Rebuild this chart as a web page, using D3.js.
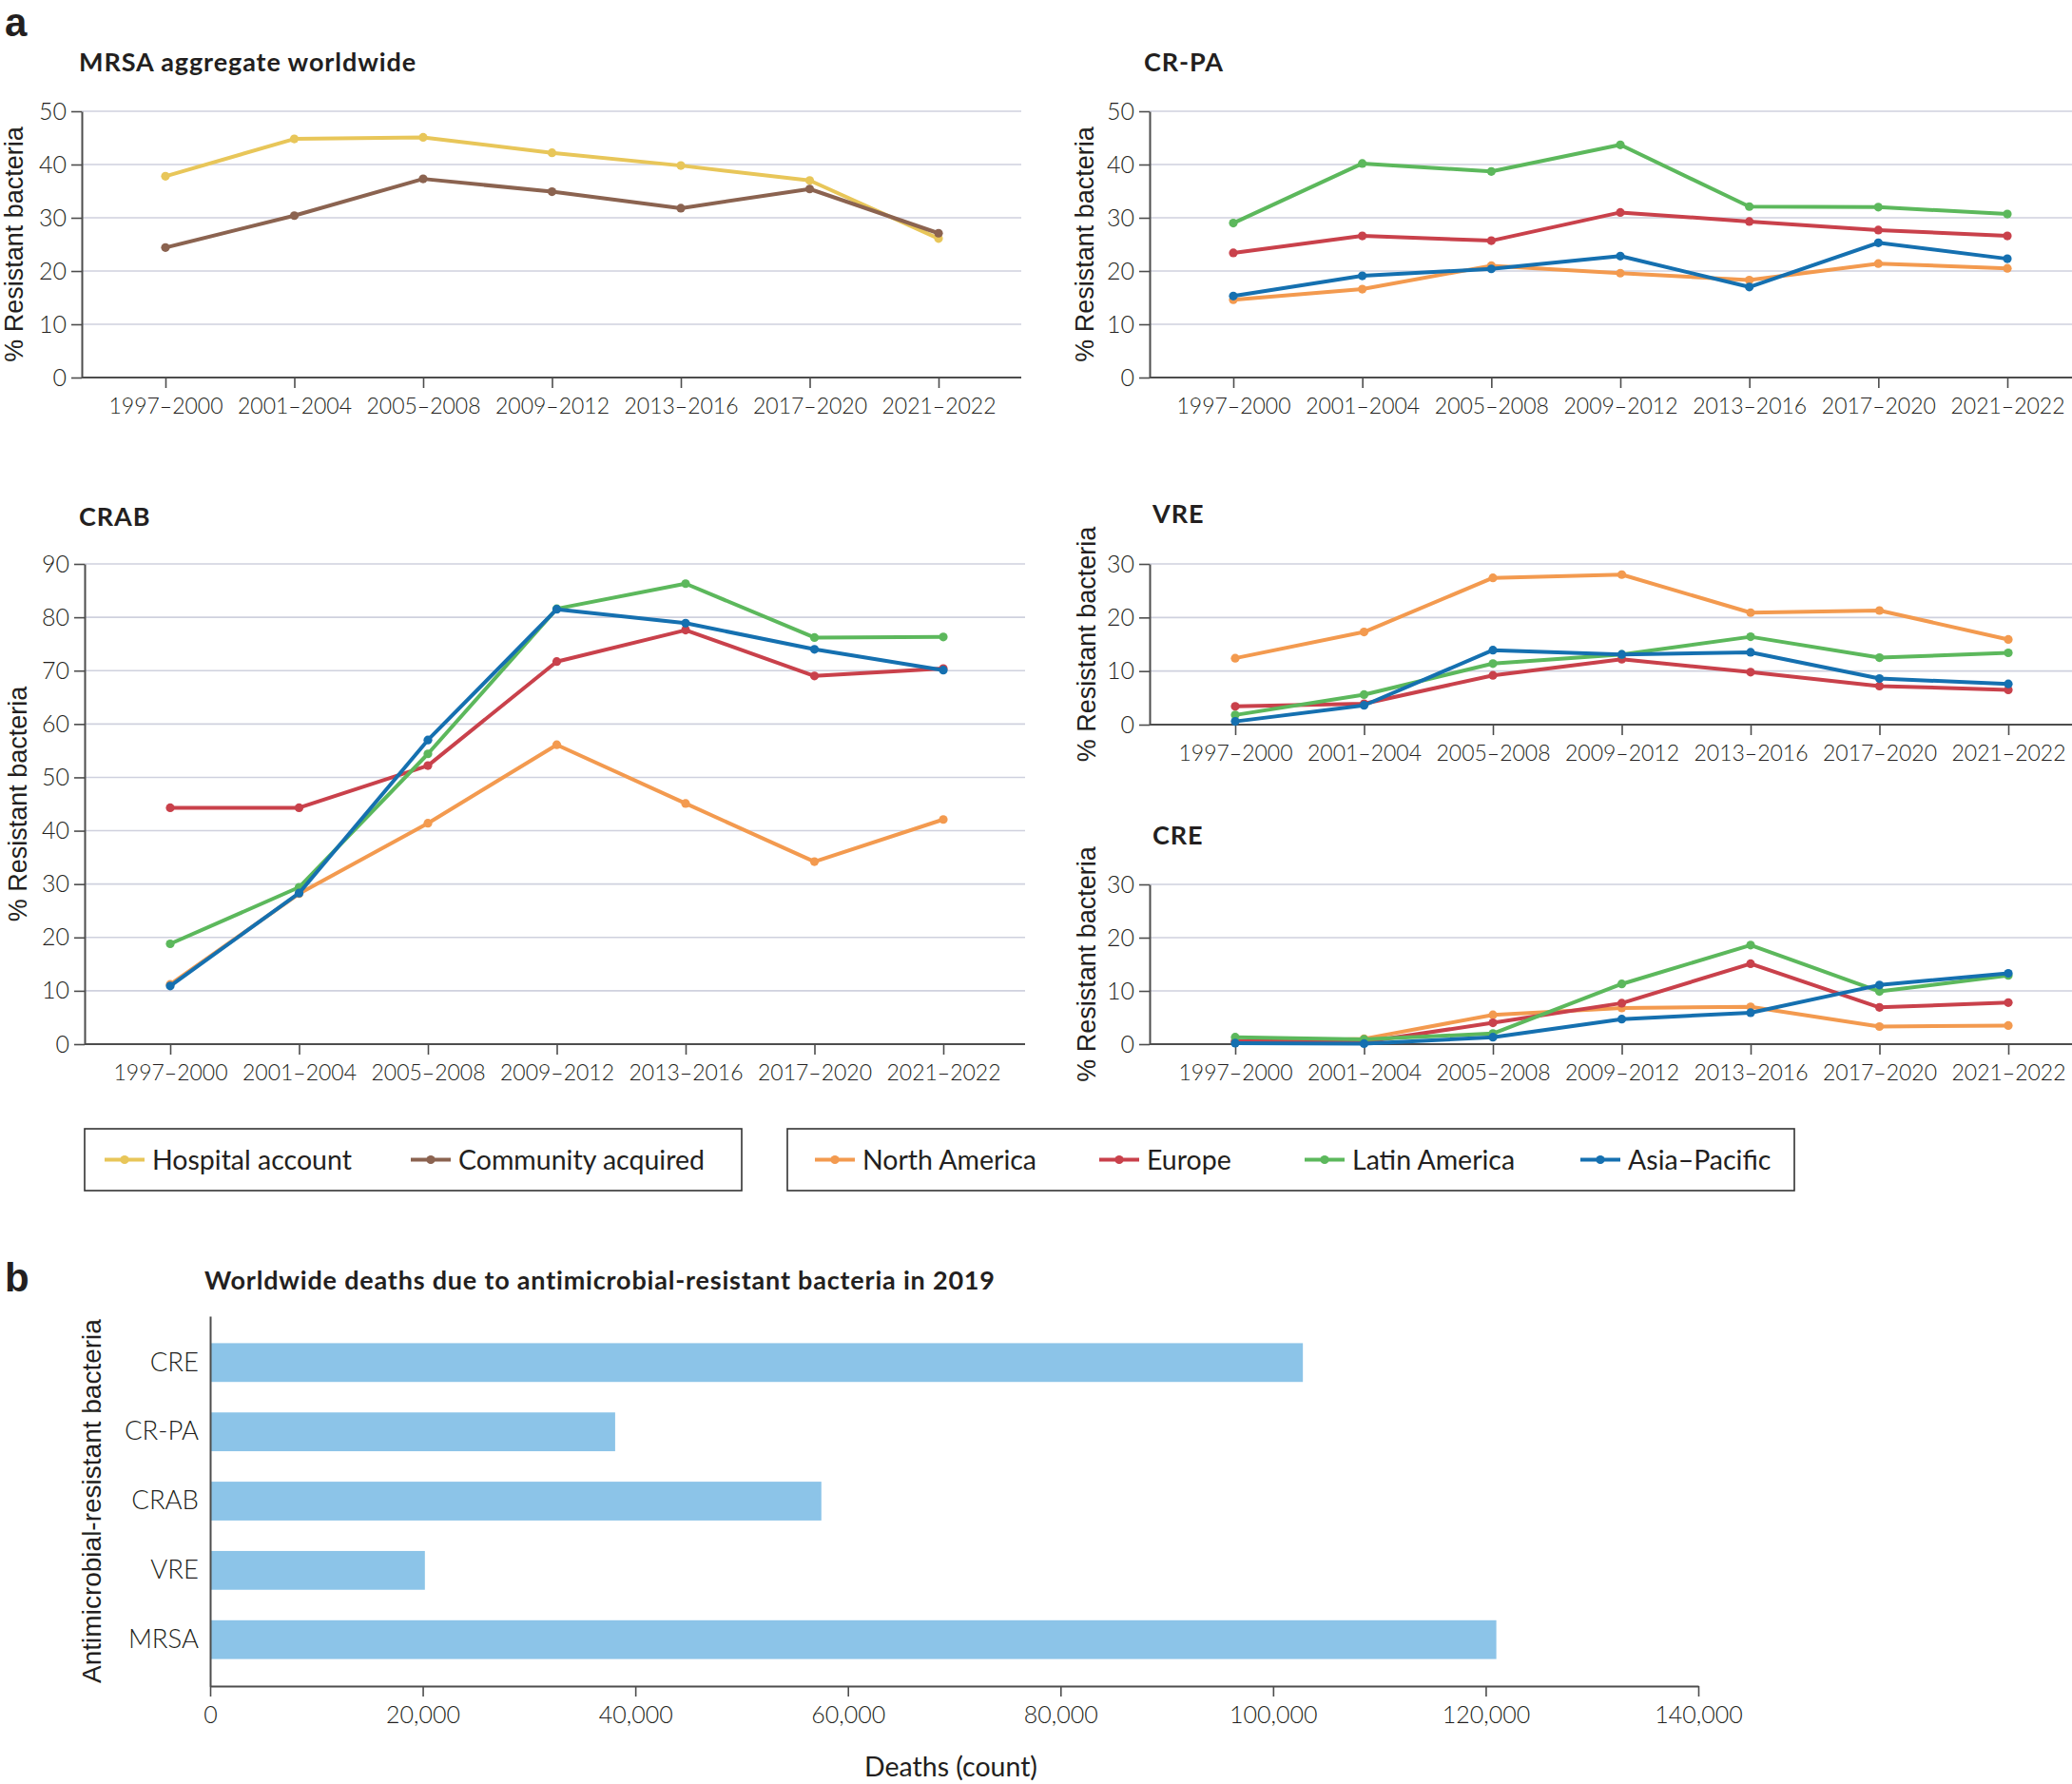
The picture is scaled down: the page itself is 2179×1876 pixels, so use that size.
<!DOCTYPE html>
<html>
<head>
<meta charset="utf-8">
<script src="https://cdn.jsdelivr.net/npm/d3@7"></script>
<style>
  html, body { margin: 0; padding: 0; background: #fff; }
  svg { display: block; }
  .tick text { font-family: Lato, "Liberation Sans", sans-serif; font-weight: 300; fill: #231f20; }
</style>
</head>
<body>
<svg id="chart" width="2179" height="1876"></svg>
<script>
// ---------------- DATA ----------------
const periods = ["1997–2000", "2001–2004", "2005–2008", "2009–2012", "2013–2016", "2017–2020", "2021–2022"];

const mrsaHospital  = [37.8, 44.8, 45.1, 42.2, 39.8, 37.0, 26.1];
const mrsaCommunity = [24.4, 30.4, 37.3, 34.9, 31.8, 35.4, 27.1];

const crpaNorthAmerica = [14.6, 16.6, 21.0, 19.6, 18.3, 21.4, 20.5];
const crpaEurope       = [23.4, 26.6, 25.7, 31.0, 29.3, 27.7, 26.6];
const crpaLatinAmerica = [29.0, 40.2, 38.7, 43.7, 32.1, 32.0, 30.7];
const crpaAsiaPacific  = [15.3, 19.1, 20.4, 22.8, 17.0, 25.3, 22.3];

const crabNorthAmerica = [11.2, 28.2, 41.4, 56.1, 45.1, 34.2, 42.1];
const crabEurope       = [44.3, 44.3, 52.2, 71.7, 77.6, 69.0, 70.4];
const crabLatinAmerica = [18.8, 29.4, 54.4, 81.6, 86.3, 76.2, 76.3];
const crabAsiaPacific  = [10.9, 28.3, 57.0, 81.5, 78.9, 74.0, 70.1];

const vreNorthAmerica = [12.4, 17.3, 27.4, 28.0, 20.9, 21.3, 15.9];
const vreEurope       = [3.4, 3.9, 9.2, 12.2, 9.8, 7.2, 6.5];
const vreLatinAmerica = [1.8, 5.6, 11.4, 13.1, 16.4, 12.5, 13.4];
const vreAsiaPacific  = [0.6, 3.6, 13.9, 13.1, 13.5, 8.6, 7.6];

const creNorthAmerica = [0.4, 1.0, 5.5, 6.8, 7.0, 3.3, 3.5];
const creEurope       = [0.6, 0.4, 4.0, 7.7, 15.1, 6.9, 7.8];
const creLatinAmerica = [1.3, 0.9, 2.0, 11.3, 18.6, 9.9, 12.9];
const creAsiaPacific  = [0.2, 0.1, 1.3, 4.7, 5.9, 11.1, 13.3];

const ticks50 = [0, 10, 20, 30, 40, 50];
const ticks90 = [0, 10, 20, 30, 40, 50, 60, 70, 80, 90];
const ticks30 = [0, 10, 20, 30];

const mrsaLegend   = ["Hospital account", "Community acquired"];
const regionLegend = ["North America", "Europe", "Latin America", "Asia–Pacific"];

const barCategories = ["CRE", "CR-PA", "CRAB", "VRE", "MRSA"];
const barDeaths     = [102800, 38100, 57500, 20200, 121000];
const barTicks      = [0, 20000, 40000, 60000, 80000, 100000, 120000, 140000];

// ---------------- STYLE ----------------
const C = {
  hospital: "#E8C659", community: "#8B6350",
  na: "#F39A4F", eu: "#C9414B", la: "#5CB85C", ap: "#1570B0",
  axis: "#4d4d4d", grid: "#cfd1de", text: "#231f20", bar: "#8CC4E8"
};
const regionColors = [C.na, C.eu, C.la, C.ap];
const mrsaColors = [C.hospital, C.community];

const svg = d3.select("#chart");
const TICK_FONT = 23;
const TITLE_FONT = "Lato, 'Liberation Sans', sans-serif";

function panel(opt) {
  const g = svg.append("g");
  const x = d3.scalePoint().domain(periods).range([opt.cx0, opt.cx1]);
  const y = d3.scaleLinear().domain([0, opt.yMax]).range([opt.yBot, opt.yTop]);

  // gridlines
  g.append("g").selectAll("line").data(opt.ticks.filter(t => t > 0)).join("line")
    .attr("x1", opt.x0).attr("x2", opt.x1)
    .attr("y1", d => y(d)).attr("y2", d => y(d))
    .attr("stroke", C.grid).attr("stroke-width", 1.6);

  // y axis
  const ya = g.append("g").attr("transform", `translate(${opt.x0},0)`)
    .call(d3.axisLeft(y).tickValues(opt.ticks).tickSize(11).tickSizeOuter(0).tickPadding(5));
  ya.select(".domain").attr("stroke", C.axis).attr("stroke-width", 2);
  ya.selectAll(".tick line").attr("stroke", C.axis).attr("stroke-width", 1.6);
  ya.selectAll(".tick text").attr("font-size", 25);

  // x axis
  const xa = g.append("g").attr("transform", `translate(0,${opt.yBot})`)
    .call(d3.axisBottom(x).tickSize(11).tickSizeOuter(0).tickPadding(11));
  xa.select(".domain").remove();
  xa.selectAll(".tick line").attr("stroke", C.axis).attr("stroke-width", 1.6);
  xa.selectAll(".tick text").attr("font-size", TICK_FONT);
  g.append("line").attr("x1", opt.x0).attr("x2", opt.x1)
    .attr("y1", opt.yBot).attr("y2", opt.yBot)
    .attr("stroke", C.axis).attr("stroke-width", 2);

  // series
  const line = d3.line().x((d, i) => x(periods[i])).y(d => y(d));
  opt.series.forEach((s, k) => {
    const sg = g.append("g");
    sg.append("path").datum(s).attr("d", line)
      .attr("fill", "none").attr("stroke", opt.colors[k])
      .attr("stroke-width", 4).attr("stroke-linejoin", "round");
    sg.selectAll("circle").data(s).join("circle")
      .attr("cx", (d, i) => x(periods[i])).attr("cy", d => y(d))
      .attr("r", 4.6).attr("fill", opt.colors[k]);
  });

  // title
  svg.append("text").attr("x", opt.tx).attr("y", opt.ty)
    .attr("font-family", TITLE_FONT).attr("letter-spacing", 0.9)
    .attr("font-weight", 700).attr("font-size", 27).attr("fill", C.text)
    .text(opt.title);

  // y label
  svg.append("text")
    .attr("transform", `translate(${opt.lx},${(opt.yTop + opt.yBot) / 2}) rotate(-90)`)
    .attr("text-anchor", "middle")
    .attr("font-family", "'Liberation Sans', Arial, sans-serif")
    .attr("font-size", 27).attr("fill", C.text)
    .text("% Resistant bacteria");
}

panel({ title: "MRSA aggregate worldwide", tx: 83, ty: 75, lx: 24,
  x0: 86, x1: 1074, cx0: 174, cx1: 987, yTop: 117, yBot: 397, yMax: 50, ticks: ticks50,
  series: [mrsaHospital, mrsaCommunity], colors: mrsaColors });

panel({ title: "CR-PA", tx: 1203, ty: 75, lx: 1150,
  x0: 1209, x1: 2179, cx0: 1297, cx1: 2111, yTop: 117, yBot: 397, yMax: 50, ticks: ticks50,
  series: [crpaNorthAmerica, crpaEurope, crpaLatinAmerica, crpaAsiaPacific], colors: regionColors });

panel({ title: "CRAB", tx: 83, ty: 553, lx: 28,
  x0: 89, x1: 1078, cx0: 179, cx1: 992, yTop: 593, yBot: 1098, yMax: 90, ticks: ticks90,
  series: [crabNorthAmerica, crabEurope, crabLatinAmerica, crabAsiaPacific], colors: regionColors });

panel({ title: "VRE", tx: 1212, ty: 550, lx: 1152,
  x0: 1209, x1: 2179, cx0: 1299, cx1: 2112, yTop: 593, yBot: 762, yMax: 30, ticks: ticks30,
  series: [vreNorthAmerica, vreEurope, vreLatinAmerica, vreAsiaPacific], colors: regionColors });

panel({ title: "CRE", tx: 1212, ty: 888, lx: 1152,
  x0: 1209, x1: 2179, cx0: 1299, cx1: 2112, yTop: 930, yBot: 1098, yMax: 30, ticks: ticks30,
  series: [creNorthAmerica, creEurope, creLatinAmerica, creAsiaPacific], colors: regionColors });

// panel letters
svg.append("text").attr("x", 5).attr("y", 38).attr("font-family", "'Liberation Sans', Arial, sans-serif")
  .attr("font-weight", 700).attr("font-size", 42).attr("fill", C.text).text("a");
svg.append("text").attr("x", 5).attr("y", 1358).attr("font-family", "'Liberation Sans', Arial, sans-serif")
  .attr("font-weight", 700).attr("font-size", 42).attr("fill", C.text).text("b");

// ---------------- LEGENDS ----------------
function legend(box, starts, labels, colors) {
  const g = svg.append("g");
  g.append("rect").attr("x", box[0]).attr("y", box[1]).attr("width", box[2]).attr("height", box[3])
    .attr("fill", "none").attr("stroke", "#333").attr("stroke-width", 1.6);
  const cy = box[1] + box[3] / 2;
  labels.forEach((lab, i) => {
    const sx = starts[i];
    g.append("line").attr("x1", sx).attr("x2", sx + 42).attr("y1", cy).attr("y2", cy)
      .attr("stroke", colors[i]).attr("stroke-width", 4);
    g.append("circle").attr("cx", sx + 21).attr("cy", cy).attr("r", 4.6).attr("fill", colors[i]);
    g.append("text").attr("x", sx + 50).attr("y", cy + 10)
      .attr("font-family", "Lato, 'Liberation Sans', sans-serif").attr("font-weight", 400)
      .attr("font-size", 28.5).attr("fill", C.text).text(lab);
  });
}
legend([89, 1187, 691, 65], [110, 432], mrsaLegend, mrsaColors);
legend([828, 1187, 1059, 65], [857, 1156, 1372, 1662], regionLegend, regionColors);

// ---------------- BAR CHART ----------------
const bx = d3.scaleLinear().domain([0, 140000]).range([221, 1786]);
const by = d3.scaleBand().domain(barCategories).range([1384, 1773]).paddingInner(0.44).paddingOuter(0.39);

svg.append("text").attr("x", 215).attr("y", 1356)
  .attr("font-family", TITLE_FONT).attr("letter-spacing", 0.8)
  .attr("font-weight", 700).attr("font-size", 27).attr("fill", C.text)
  .text("Worldwide deaths due to antimicrobial-resistant bacteria in 2019");

svg.append("g").selectAll("rect").data(barCategories).join("rect")
  .attr("x", bx(0)).attr("y", d => by(d))
  .attr("width", (d, i) => bx(barDeaths[i]) - bx(0))
  .attr("height", by.bandwidth()).attr("fill", C.bar);

const bxa = svg.append("g").attr("transform", "translate(0,1773)")
  .call(d3.axisBottom(bx).tickValues(barTicks).tickFormat(d3.format(",")).tickSize(11).tickSizeOuter(0).tickPadding(10));
bxa.select(".domain").attr("stroke", C.axis).attr("stroke-width", 2);
bxa.selectAll(".tick line").attr("stroke", C.axis).attr("stroke-width", 1.6);
bxa.selectAll(".tick text").attr("font-size", 25);

const bya = svg.append("g").attr("transform", "translate(221,0)")
  .call(d3.axisLeft(by).tickSize(0).tickPadding(12));
bya.select(".domain").attr("stroke", C.axis).attr("stroke-width", 2);
bya.selectAll(".tick text").attr("font-size", 27.5).attr("font-weight", 400);

svg.append("text").attr("x", 1000).attr("y", 1868).attr("text-anchor", "middle")
  .attr("font-family", "Lato, 'Liberation Sans', sans-serif").attr("font-weight", 400)
  .attr("font-size", 28.5).attr("fill", C.text).text("Deaths (count)");

svg.append("text")
  .attr("transform", `translate(106,${(1384 + 1773) / 2}) rotate(-90)`)
  .attr("text-anchor", "middle")
  .attr("font-family", "'Liberation Sans', Arial, sans-serif")
  .attr("font-size", 28).attr("fill", C.text)
  .text("Antimicrobial-resistant bacteria");
</script>
</body>
</html>
